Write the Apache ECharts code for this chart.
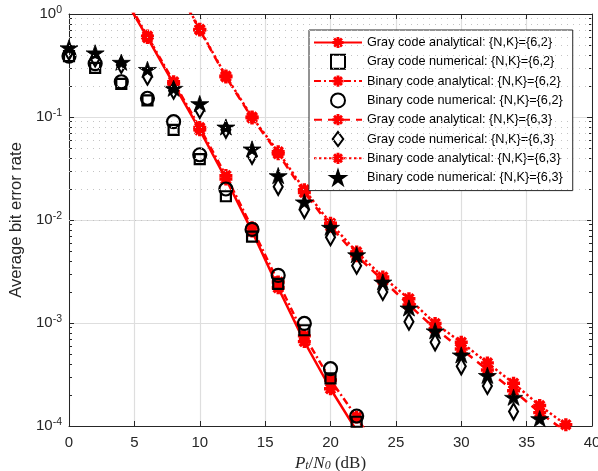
<!DOCTYPE html>
<html>
<head>
<meta charset="utf-8">
<script src="https://cdn.jsdelivr.net/npm/echarts@6/dist/echarts.min.js"></script>
<style>
  html, body { margin: 0; padding: 0; background: #fff; }
  #chart { width: 598px; height: 471px; }
</style>
</head>
<body>
<div id="chart"></div>
<script>
// SNR points (dB)
const snrGrayAna62 = [4, 6, 8, 10, 12, 14, 16, 18, 20, 22]
const snrBinAna62 = [4, 6, 8, 10, 12, 14, 16, 18, 20, 22, 24]
const snrNum62 = [0, 2, 4, 6, 8, 10, 12, 14, 16, 18, 20, 22]
const snrAna63 = [8, 10, 12, 14, 16, 18, 20, 22, 24, 26, 28, 30, 32, 34, 36, 38]
const snrNum63 = [0, 2, 4, 6, 8, 10, 12, 14, 16, 18, 20, 22, 24, 26, 28, 30, 32, 34, 36]

// {N,K}={6,2}
const grayAna62 = [1.6, 0.59, 0.21, 0.075, 0.025, 0.0078, 0.0022, 0.00066, 0.00023, 0.00009]
const grayNum62 = [0.39, 0.30, 0.21, 0.145, 0.075, 0.039, 0.017, 0.0069, 0.0024, 0.00085, 0.00029, 0.00011]
const binAna62 = [1.7, 0.61, 0.22, 0.079, 0.027, 0.0084, 0.0025, 0.00075, 0.00028, 0.000122, 0.000049]
const binNum62 = [0.39, 0.33, 0.22, 0.152, 0.090, 0.043, 0.020, 0.0081, 0.0029, 0.00099, 0.00036, 0.000125]

// {N,K}={6,3}
const grayAna63 = [2.0, 0.70, 0.245, 0.098, 0.044, 0.0185, 0.0087, 0.0045, 0.0026, 0.0015, 0.00088, 0.00056, 0.00035, 0.00022, 0.000135, 0.000088]
const grayNum63 = [0.43, 0.37, 0.32, 0.246, 0.18, 0.117, 0.075, 0.042, 0.021, 0.0125, 0.0068, 0.0036, 0.0020, 0.00103, 0.00065, 0.00038, 0.000245, 0.000138, 0.00008]
const binAna63 = [2.1, 0.71, 0.25, 0.10, 0.046, 0.0197, 0.0093, 0.0049, 0.0028, 0.00172, 0.00099, 0.00065, 0.00041, 0.00026, 0.000158, 0.000103]
const binNum63 = [0.47, 0.42, 0.34, 0.29, 0.19, 0.135, 0.080, 0.049, 0.027, 0.015, 0.0085, 0.0046, 0.0025, 0.0014, 0.00084, 0.00049, 0.00031, 0.00019, 0.000118]

const names = [
  'Gray code analytical: {N,K}={6,2}',
  'Gray code numerical: {N,K}={6,2}',
  'Binary code analytical: {N,K}={6,2}',
  'Binary code numerical: {N,K}={6,2}',
  'Gray code analytical: {N,K}={6,3}',
  'Gray code numerical: {N,K}={6,3}',
  'Binary code analytical: {N,K}={6,3}',
  'Binary code numerical: {N,K}={6,3}'
]

const xTicks = [0, 5, 10, 15, 20, 25, 30, 35, 40]

// marker shapes (matlab-like)
const asterisk = 'path://M-10,-2.6L10,-2.6L10,2.6L-10,2.6Z M-2.6,-10L2.6,-10L2.6,10L-2.6,10Z ' +
  'M-5.23,-8.9L8.9,5.23L5.23,8.9L-8.9,-5.23Z M8.9,-5.23L-5.23,8.9L-8.9,5.23L5.23,-8.9Z'
const star = 'path://M0,-10L2.245,-3.09L9.511,-3.09L3.633,1.18L5.878,8.09L0,3.82L-5.878,8.09L-3.633,1.18L-9.511,-3.09L-2.245,-3.09Z'
const square = 'path://M-5,-5L5,-5L5,5L-5,5Z'
const diamond = 'path://M0,-8L6,0L0,8L-6,0Z'

const axisColor = '#262626'
const font = 'Liberation Sans, Arial, sans-serif'

// minor log positions (2..9 x 10^k)
const minorVals = []
for (let k = -4; k < 0; k++) {
  for (let m = 2; m <= 9; m++) minorVals.push(+(m * Math.pow(10, k)).toPrecision(3))
}

function pairs(xs, ys) {
  return xs.map((x, i) => [x, ys[i]])
}

function anaSeries(name, xs, ys, lineType) {
  return {
    name: name,
    type: 'line',
    data: pairs(xs, ys),
    symbol: asterisk,
    symbolSize: 13,
    showAllSymbol: true,
    clip: true,
    itemStyle: { color: '#ff0000', opacity: 1 },
    lineStyle: { color: '#ff0000', width: 2.5, type: lineType },
    z: 3
  }
}

function numSeries(name, xs, ys, symbol, size, filled) {
  return {
    name: name,
    type: 'scatter',
    data: pairs(xs, ys),
    symbol: symbol,
    symbolSize: size,
    symbolKeepAspect: true,
    clip: true,
    itemStyle: filled
      ? { color: '#000', borderColor: '#000', borderWidth: 0.8, opacity: 1 }
      : { color: 'rgba(0,0,0,0)', borderColor: '#000', borderWidth: 2.2, opacity: 1 },
    z: 4
  }
}

const chart = echarts.init(document.getElementById('chart'), null, { renderer: 'canvas' })

const option = {
  animation: false,
  backgroundColor: '#fff',
  grid: { left: 69, right: 6, top: 14, bottom: 45, show: false, containLabel: false, outerBoundsMode: 'none' },
  legend: {
    data: names,
    orient: 'vertical',
    left: 309,
    top: 30,
    padding: [6, 10, 5, 4],
    itemWidth: 48,
    itemHeight: 14,
    itemGap: 4.8,
    backgroundColor: '#fff',
    borderColor: axisColor,
    borderWidth: 1,
    textStyle: { fontFamily: font, fontSize: 12.7, color: '#000' }
  },
  xAxis: [
    {
      type: 'value', min: 0, max: 40, interval: 5,
      axisLine: { lineStyle: { color: axisColor, width: 1 } },
      axisTick: { inside: true, length: 5, lineStyle: { color: axisColor } },
      axisLabel: {
        fontFamily: font, fontSize: 15, color: axisColor, margin: 9,
        formatter: v => xTicks.includes(v) ? String(v) : ''
      },
      splitLine: { show: true, lineStyle: { color: '#dedede', width: 1.2 } },
      name: '{i|P}{s|t}{n|/}{i|N}{s|0}{n| (dB)}',
      nameLocation: 'middle',
      nameGap: 26,
      nameTextStyle: {
        rich: {
          i: { fontFamily: 'Liberation Serif, serif', fontStyle: 'italic', fontSize: 17, color: axisColor, padding: [0, 0, 4, 0] },
          n: { fontFamily: 'Liberation Serif, serif', fontSize: 17, color: axisColor, padding: [0, 0, 4, 0] },
          s: { fontFamily: 'Liberation Serif, serif', fontStyle: 'italic', fontSize: 12, color: axisColor }
        }
      }
    },
    {
      type: 'value', min: 0, max: 40, interval: 5, position: 'top',
      axisLine: { lineStyle: { color: axisColor, width: 1 } },
      axisTick: { inside: true, length: 5, lineStyle: { color: axisColor } },
      axisLabel: { show: false },
      splitLine: { show: false }
    }
  ],
  yAxis: [
    {
      type: 'log', logBase: 10, min: 1e-4, max: 1,
      axisLine: { show: true, lineStyle: { color: axisColor, width: 1 } },
      axisTick: { show: true, inside: true, length: 5, lineStyle: { color: axisColor } },
      axisLabel: {
        fontFamily: font, color: axisColor, margin: 7,
        formatter: v => '{b|10}{s|' + Math.round(Math.log10(v)) + '}',
        rich: {
          b: { fontFamily: font, fontSize: 15, color: axisColor },
          s: { fontFamily: font, fontSize: 10.5, color: axisColor, padding: [0, 0, 8, 0] }
        }
      },
      splitLine: { show: true, lineStyle: { color: '#dedede', width: 1.2 } },
      name: 'Average bit error rate',
      nameLocation: 'middle',
      nameGap: 42,
      nameTextStyle: { fontFamily: font, fontSize: 16.5, color: axisColor }
    },
    {
      type: 'log', logBase: 10, min: 1e-4, max: 1, position: 'left',
      axisLine: { show: false },
      axisTick: { show: true, inside: true, length: 3, customValues: minorVals, lineStyle: { color: axisColor } },
      axisLabel: { show: false },
      splitLine: { show: false }
    },
    {
      type: 'log', logBase: 10, min: 1e-4, max: 1, position: 'right',
      axisLine: { show: true, lineStyle: { color: axisColor, width: 1 } },
      axisTick: { show: true, inside: true, length: 5, lineStyle: { color: axisColor } },
      axisLabel: { show: false },
      splitLine: { show: false }
    },
    {
      type: 'log', logBase: 10, min: 1e-4, max: 1, position: 'right',
      axisLine: { show: false },
      axisTick: { show: true, inside: true, length: 3, customValues: minorVals, lineStyle: { color: axisColor } },
      axisLabel: { show: false },
      splitLine: { show: false }
    }
  ],
  series: [
    {
      name: 'minor grid',
      type: 'line',
      data: [],
      z: 1,
      markLine: {
        silent: true,
        animation: false,
        symbol: ['none', 'none'],
        label: { show: false },
        lineStyle: { color: '#c4c4c4', width: 1, type: [1, 5] },
        data: minorVals.map(v => ({ yAxis: v }))
      }
    },
    anaSeries(names[0], snrGrayAna62, grayAna62, 'solid'),
    numSeries(names[1], snrNum62, grayNum62, square, 10, false),
    anaSeries(names[2], snrBinAna62, binAna62, [7, 3, 2, 3]),
    numSeries(names[3], snrNum62, binNum62, 'circle', 13, false),
    anaSeries(names[4], snrAna63, grayAna63, [8, 6]),
    numSeries(names[5], snrNum63, grayNum63, diamond, [12, 16], false),
    anaSeries(names[6], snrAna63, binAna63, [2.5, 2.5]),
    numSeries(names[7], snrNum63, binNum63, star, [18, 17], true)
  ]
}

chart.setOption(option)
</script>
</body>
</html>
